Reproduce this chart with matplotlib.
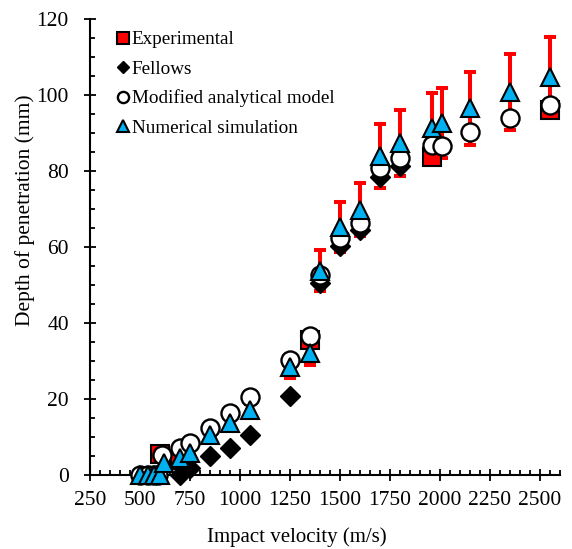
import matplotlib
matplotlib.use("Agg")
import matplotlib.pyplot as plt
import numpy as np
from matplotlib.ticker import MultipleLocator

# --- data ---
exp_v = [600, 700, 1350, 1960, 2550]
exp_d = [5.5, 4.0, 35.6, 83.8, 96.0]

fel_v = [700, 750, 850, 950, 1050, 1250, 1400, 1500, 1600, 1700, 1800]
fel_d = [0.0, 1.8, 4.9, 7.1, 10.6, 20.7, 50.5, 60.2, 64.5, 78.3, 81.2]

mod_v = [500, 540, 570, 590, 610, 700, 750, 850, 950, 1050, 1250, 1350,
         1400, 1500, 1600, 1700, 1800, 1960, 2010, 2150, 2350, 2550]
mod_d = [0.0, 0.0, 0.0, 0.0, 5.3, 7.1, 8.4, 12.4, 16.3, 20.5, 30.3, 36.7,
         52.7, 62.4, 66.3, 80.8, 83.5, 86.9, 86.7, 90.2, 93.9, 97.4]

num_v = [500, 540, 570, 600, 620, 700, 750, 850, 950, 1050, 1250, 1350,
         1400, 1500, 1600, 1700, 1800, 1960, 2010, 2150, 2350, 2550]
num_d = [0.0, 0.0, 0.0, 0.0, 3.2, 4.4, 5.9, 10.5, 13.7, 17.0, 28.4, 32.1,
         53.8, 65.3, 69.8, 84.0, 87.3, 91.3, 92.6, 96.5, 100.8, 104.8]
num_err = 0.10  # +/- 10 % bars

RED = "#FF0000"
BLUE = "#00B0F0"

plt.rcParams["font.family"] = ["Liberation Serif", "DejaVu Serif"]

fig = plt.figure(figsize=(5.72, 5.49), dpi=100)
ax = fig.add_axes([90 / 572, 74 / 549, 470 / 572, 456 / 549])

num_d_arr = np.array(num_d)
ax.errorbar(num_v, num_d, yerr=num_d_arr * num_err, fmt="none", ecolor=RED,
            elinewidth=2.9, capsize=4.6, capthick=2.9, zorder=2, clip_on=False)

ax.plot(exp_v, exp_d, "s", ms=13, mfc=RED, mec="black", mew=1.5,
        label="Experimental", zorder=3, clip_on=False)
ax.plot(fel_v, fel_d, "D", ms=10, mfc="black", mec="black", mew=1.0,
        label="Fellows", zorder=4, clip_on=False)
ax.plot(mod_v, mod_d, "o", ms=13, mfc="white", mec="black", mew=1.7,
        label="Modified analytical model", zorder=5, clip_on=False)
ax.plot(num_v, num_d, "^", ms=13, mfc=BLUE, mec="black", mew=1.5,
        label="Numerical simulation", zorder=6, clip_on=False)

ax.set_xlim(250, 2600)
ax.set_ylim(0, 120)
ax.xaxis.set_major_locator(MultipleLocator(250))
ax.xaxis.set_minor_locator(MultipleLocator(50))
ax.yaxis.set_major_locator(MultipleLocator(20))
ax.yaxis.set_minor_locator(MultipleLocator(5))

for s in ["top", "right"]:
    ax.spines[s].set_visible(False)
for s in ["left", "bottom"]:
    ax.spines[s].set_linewidth(1.5)

ax.tick_params(which="major", direction="inout", length=8.5, width=1.3,
               labelsize=15.5)
ax.tick_params(which="minor", direction="in", length=3.8, width=1.3)
ax.tick_params(axis="x", which="major", pad=7)
ax.tick_params(axis="y", which="major", pad=11)

ax.set_xlabel("Impact velocity (m/s)", fontsize=15)
ax.set_ylabel("Depth of penetration (mm)", fontsize=15.5)
ax.xaxis.set_label_coords(0.44, -0.115)
ax.yaxis.set_label_coords(-0.118, 0.58)

ax.legend(loc="upper left", bbox_to_anchor=(0.057, 0.974), frameon=False,
          fontsize=13.8, markerscale=0.62, handlelength=0.62,
          handletextpad=0.15, labelspacing=0.62, borderaxespad=0,
          borderpad=0)

fig.savefig("out.png", dpi=100)
